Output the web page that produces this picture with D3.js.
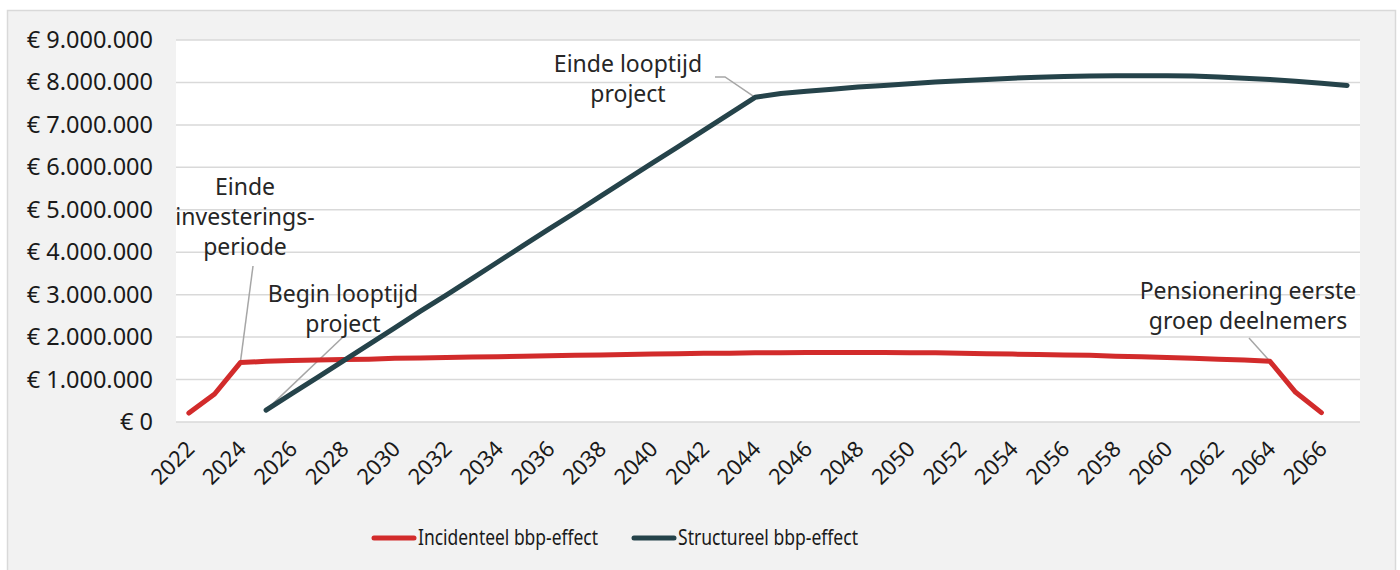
<!DOCTYPE html>
<html>
<head>
<meta charset="utf-8">
<script src="https://cdn.jsdelivr.net/npm/d3@7"></script>
<style>
  body { margin: 0; background: #ffffff; }
  svg { display: block; font-family: "Noto Sans", "Open Sans", sans-serif; }
</style>
</head>
<body>
<div id="chart"></div>
<script>
// years on the category axis
var years = d3.range(2022, 2068);

// Incidenteel bbp-effect, 2022 - 2066 (euro)
var incidenteel = [
  0.21, 0.66, 1.40, 1.43, 1.45, 1.46, 1.47, 1.48, 1.50, 1.51,
  1.52, 1.53, 1.54, 1.55, 1.56, 1.57, 1.58, 1.59, 1.60, 1.61,
  1.62, 1.62, 1.63, 1.63, 1.64, 1.64, 1.64, 1.64, 1.63, 1.63,
  1.62, 1.61, 1.60, 1.59, 1.58, 1.57, 1.55, 1.54, 1.52, 1.50,
  1.48, 1.46, 1.43, 0.70, 0.22
].map(function (v) { return v * 1e6; });

// Structureel bbp-effect, 2025 - 2067 (euro)
var structureel = [
  0.28, 0.67, 1.05, 1.44, 1.83, 2.22, 2.61, 2.99, 3.38, 3.77,
  4.16, 4.55, 4.93, 5.32, 5.71, 6.10, 6.48, 6.87, 7.26, 7.65,
  7.74, 7.79, 7.84, 7.89, 7.93, 7.97, 8.01, 8.04, 8.07, 8.10,
  8.12, 8.14, 8.15, 8.16, 8.16, 8.16, 8.15, 8.13, 8.10, 8.07,
  8.03, 7.98, 7.93
].map(function (v) { return v * 1e6; });

var yTicks = d3.range(0, 9000001, 1000000);
var xTickYears = years.filter(function (y) { return y % 2 === 0; });

var seriesNames = ["Incidenteel bbp-effect", "Structureel bbp-effect"];
var seriesColors = ["#d22b2b", "#25434a"];

// annotations: label lines, point it refers to, where the text sits
var annotations = [
  { lines: ["Einde", "investerings-", "periode"], series: 0, year: 2024, tx: 245, ty: 195, lx: 253, ly: 266 },
  { lines: ["Begin looptijd", "project"], series: 1, year: 2025, tx: 343, ty: 302, lx: 343, ly: 337 },
  { lines: ["Einde looptijd", "project"], series: 1, year: 2044, tx: 628, ty: 72, lx: 715, ly: 77, kx: 725 },
  { lines: ["Pensionering eerste", "groep deelnemers"], series: 0, year: 2064, tx: 1248, ty: 299, lx: 1249, ly: 338 }
];

var W = 1400, H = 570;
var plot = { left: 176, right: 1360, top: 40, bottom: 422 };

var svg = d3.select("#chart").append("svg")
  .attr("width", W)
  .attr("height", H);

// outer chart area
svg.append("rect")
  .attr("x", 7.5).attr("y", 10.5)
  .attr("width", 1388).attr("height", 580)
  .attr("fill", "#f2f2f2")
  .attr("stroke", "#d9d9d9")
  .attr("stroke-width", 1.5);

// plot area
svg.append("rect")
  .attr("x", plot.left).attr("y", plot.top)
  .attr("width", plot.right - plot.left).attr("height", plot.bottom - plot.top)
  .attr("fill", "#ffffff");

var x = d3.scalePoint().domain(years).range([plot.left, plot.right]).padding(0.5);
var y = d3.scaleLinear().domain([0, 9000000]).range([plot.bottom, plot.top]);

var fmt = function (v) {
  return "€ " + (v === 0 ? "0" : d3.format(",")(v).replace(/,/g, "."));
};

// gridlines
svg.append("g")
  .selectAll("line")
  .data(yTicks)
  .enter()
  .append("line")
  .attr("x1", plot.left).attr("x2", plot.right)
  .attr("y1", function (d) { return y(d); })
  .attr("y2", function (d) { return y(d); })
  .attr("stroke", "#d9d9d9")
  .attr("stroke-width", 1.5);

// y axis labels
var yAxis = svg.append("g")
  .attr("transform", "translate(" + (plot.left - 23) + ",0)")
  .call(d3.axisLeft(y).tickValues(yTicks).tickFormat(fmt).tickSize(0).tickPadding(0));
yAxis.select(".domain").remove();
yAxis.selectAll("text")
  .style("font-family", "'Noto Sans', 'Open Sans', sans-serif")
  .style("font-size", "23.5px")
  .attr("fill", "#1a1a1a");

// x axis labels
var xAxis = svg.append("g")
  .attr("transform", "translate(0," + plot.bottom + ")")
  .call(d3.axisBottom(x).tickValues(xTickYears).tickSize(0).tickPadding(0));
xAxis.select(".domain").remove();
xAxis.selectAll("text")
  .style("font-family", "'Noto Sans', 'Open Sans', sans-serif")
  .style("font-size", "22px")
  .attr("fill", "#1a1a1a")
  .attr("text-anchor", "end")
  .attr("dy", "0.35em")
  .attr("y", 0)
  .attr("transform", "translate(1,23) rotate(-45)");

// lines
var line = d3.line()
  .x(function (d) { return x(d.year); })
  .y(function (d) { return y(d.value); });

var seriesData = [
  incidenteel.map(function (v, i) { return { year: 2022 + i, value: v }; }),
  structureel.map(function (v, i) { return { year: 2025 + i, value: v }; })
];

// leader lines go under the data lines
annotations.forEach(function (a) {
  var pt = seriesData[a.series].find(function (d) { return d.year === a.year; });
  var pts = [[a.lx, a.ly]];
  if (a.kx) pts.push([a.kx, a.ly]);
  pts.push([x(pt.year), y(pt.value)]);
  svg.append("path")
    .attr("d", d3.line()(pts))
    .attr("fill", "none")
    .attr("stroke", "#a6a6a6")
    .attr("stroke-width", 1.5);
});

svg.selectAll(".series")
  .data(seriesData)
  .enter()
  .append("path")
  .attr("class", "series")
  .attr("d", line)
  .attr("fill", "none")
  .attr("stroke", function (d, i) { return seriesColors[i]; })
  .attr("stroke-width", 5)
  .attr("stroke-linejoin", "round")
  .attr("stroke-linecap", "round");

// annotation text
annotations.forEach(function (a) {
  var t = svg.append("text")
    .attr("x", a.tx).attr("y", a.ty)
    .attr("text-anchor", "middle")
    .style("font-size", "23px")
    .attr("fill", "#262626");
  a.lines.forEach(function (s, i) {
    t.append("tspan")
      .attr("x", a.tx)
      .attr("dy", i === 0 ? 0 : 30)
      .text(s);
  });
});

// legend (text is narrow in the original, squeeze it)
var legend = svg.append("g").attr("transform", "translate(373,538)");
var legendX = [0, 260];
seriesNames.forEach(function (n, i) {
  var g = legend.append("g").attr("transform", "translate(" + legendX[i] + ",0)");
  g.append("line")
    .attr("x1", 1).attr("x2", 41)
    .attr("stroke", seriesColors[i])
    .attr("stroke-width", 5)
    .attr("stroke-linecap", "round");
  g.append("text")
    .attr("x", 45).attr("dy", "0.35em")
    .style("font-size", "21px")
    .attr("textLength", 180)
    .attr("lengthAdjust", "spacingAndGlyphs")
    .attr("fill", "#1a1a1a")
    .text(n);
});
</script>
</body>
</html>
